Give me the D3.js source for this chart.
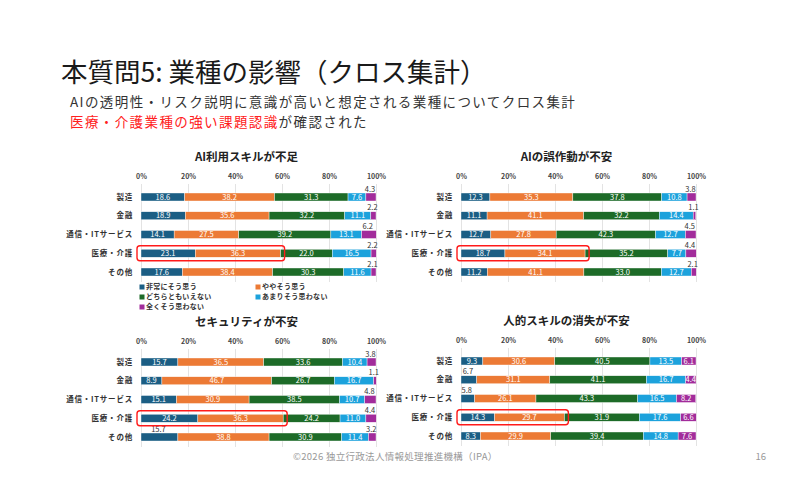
<!DOCTYPE html>
<html>
<head>
<meta charset="utf-8">
<script src="https://cdn.jsdelivr.net/npm/d3@7/dist/d3.min.js"></script>
<style>
  body { margin: 0; background: #fff; }
  svg { font-family: "Noto Sans CJK JP", "Noto Sans", sans-serif; }
</style>
</head>
<body>
<div id="container"></div>
<script>
// data
let categories = ["製造", "金融", "通信・ITサービス", "医療・介護", "その他"];
let seriesNames = ["非常にそう思う", "ややそう思う", "どちらともいえない", "あまりそう思わない", "全くそう思わない"];
let seriesColors = ["#1b5e84", "#ec7a35", "#1d6b28", "#1ca2dc", "#a22c9b"];
let tickValues = [0, 20, 40, 60, 80, 100];
let chartTitles = ["AI利用スキルが不足", "AIの誤作動が不安", "セキュリティが不安", "人的スキルの消失が不安"];

let skillShortage = [
  [18.6, 38.2, 31.3, 7.6, 4.3],
  [18.9, 35.6, 32.2, 11.1, 2.2],
  [14.1, 27.5, 39.2, 13.1, 6.2],
  [23.1, 36.3, 22.0, 16.5, 2.2],
  [17.6, 38.4, 30.3, 11.6, 2.1]
];
let malfunction = [
  [12.3, 35.3, 37.8, 10.8, 3.8],
  [11.1, 41.1, 32.2, 14.4, 1.1],
  [12.7, 27.8, 42.3, 12.7, 4.5],
  [18.7, 34.1, 35.2, 7.7, 4.4],
  [11.2, 41.1, 33.0, 12.7, 2.1]
];
let security = [
  [15.7, 36.5, 33.6, 10.4, 3.8],
  [8.9, 46.7, 26.7, 16.7, 1.1],
  [15.1, 30.9, 38.5, 10.7, 4.8],
  [24.2, 36.3, 24.2, 11.0, 4.4],
  [15.7, 38.8, 30.9, 11.4, 3.2]
];
let humanSkillLoss = [
  [9.3, 30.6, 40.5, 13.5, 6.1],
  [6.7, 31.1, 41.1, 16.7, 4.4],
  [5.8, 26.1, 43.3, 16.5, 8.2],
  [14.3, 29.7, 31.9, 17.6, 6.6],
  [8.3, 29.9, 39.4, 14.8, 7.6]
];
// labels drawn above the bar instead of inside: [row, segment]
let aboveSkill = [[0, 4], [1, 4], [2, 4], [3, 4], [4, 4]];
let aboveMalfunction = [[0, 4], [1, 4], [2, 4], [3, 4], [4, 4]];
let aboveSecurity = [[0, 4], [1, 4], [2, 4], [3, 4], [4, 4], [4, 0]];
let aboveHuman = [[1, 0], [2, 0]];

let w = 800;
let h = 486;

let viz = d3.select("#container")
  .append("svg")
    .attr("width", w)
    .attr("height", h);

// slide header
viz.append("text")
  .text("本質問5: 業種の影響（クロス集計）")
  .attr("x", 61)
  .attr("y", 82)
  .attr("font-size", "26.5px")
  .attr("fill", "#1a1a1a");

viz.append("text")
  .text("AIの透明性・リスク説明に意識が高いと想定される業種についてクロス集計")
  .attr("x", 70)
  .attr("y", 107)
  .attr("font-size", "13.5px")
  .attr("letter-spacing", "1.4px")
  .attr("fill", "#333");

let line2 = viz.append("text")
  .attr("x", 70)
  .attr("y", 127)
  .attr("font-size", "13.5px")
  .attr("letter-spacing", "1.4px");
line2.append("tspan").text("医療・介護業種の強い課題認識").attr("fill", "#ff2020");
line2.append("tspan").text("が確認された").attr("fill", "#333");

// footer
viz.append("text")
  .text("©2026 独立行政法人情報処理推進機構（IPA）")
  .attr("x", 293)
  .attr("y", 460)
  .attr("font-size", "9.5px")
  .attr("letter-spacing", "0.3px")
  .attr("fill", "#999");
viz.append("text")
  .text("16")
  .attr("x", 766)
  .attr("y", 460)
  .attr("text-anchor", "end")
  .attr("font-size", "9.5px")
  .attr("fill", "#999");

function drawChart(title, values, above, left, right, tickY) {
  let x = d3.scaleLinear().domain([0, 100]).range([left, right]);
  let y = d3.scalePoint().domain(categories).range([tickY + 21, tickY + 96]);
  let barH = 8;
  let g = viz.append("g");

  // gridlines
  let grid = g.append("g")
    .attr("transform", "translate(0," + (tickY + 8) + ")")
    .call(d3.axisTop(x).tickValues(tickValues).tickSize(-(98)).tickFormat(""));
  grid.select(".domain").remove();
  grid.selectAll("line").attr("stroke", "#dcdcdc").attr("stroke-width", 0.8);

  // tick labels
  let ticks = g.append("g")
    .attr("transform", "translate(0," + (tickY + 3) + ")")
    .call(d3.axisTop(x).tickValues(tickValues).tickSize(0).tickPadding(0).tickFormat(function(d){ return d + "%"; }));
  ticks.select(".domain").remove();
  ticks.selectAll("text")
    .attr("font-family", "\"Noto Sans CJK JP\", sans-serif")
    .attr("font-size", "7px")
    .attr("font-weight", "bold")
    .attr("fill", "#444");

  // title
  g.append("text")
    .text(title)
    .attr("x", (left + right) / 2 - 12)
    .attr("y", tickY - 15)
    .attr("text-anchor", "middle")
    .attr("font-size", "11.5px")
    .attr("font-weight", "bold")
    .attr("fill", "#222");

  // category labels
  g.selectAll(".cat")
    .data(categories)
    .enter()
    .append("text")
      .text(function(d){ return d; })
      .attr("x", left - 8)
      .attr("y", function(d){ return y(d); })
      .attr("dy", "0.35em")
      .attr("text-anchor", "end")
      .attr("font-size", "7.5px")
      .attr("font-weight", "bold")
      .attr("letter-spacing", "0.8px")
      .attr("fill", "#333");

  // stacked segments
  values.forEach(function(row, ri) {
    let cat = categories[ri];
    let cum = 0;
    row.forEach(function(v, si) {
      let start = cum;
      cum += v;
      g.append("rect")
        .attr("x", x(start))
        .attr("y", y(cat) - barH / 2)
        .attr("width", x(cum) - x(start))
        .attr("height", barH)
        .attr("fill", seriesColors[si])
        .attr("stroke", "#fff")
        .attr("stroke-width", 0.4);

      let isAbove = above.some(function(a){ return a[0] == ri && a[1] == si; });
      let mid = (x(start) + x(Math.min(cum, 100))) / 2;
      g.append("text")
        .text(v.toFixed(1))
        .attr("x", isAbove ? mid - 1 : mid)
        .attr("y", isAbove ? y(cat) - barH / 2 - 1.5 : y(cat))
        .attr("dy", isAbove ? "0" : "0.35em")
        .attr("text-anchor", "middle")
        .attr("font-size", "7.5px")
        .attr("fill", isAbove ? "#333" : "#fff");
    });
  });

  // red highlight around the first two segments of 医療・介護
  let hv = values[3][0] + values[3][1];
  g.append("rect")
    .attr("x", x(0) - 4)
    .attr("y", y("医療・介護") - 7.5)
    .attr("width", x(hv) - x(0) + 8)
    .attr("height", 15)
    .attr("rx", 3)
    .attr("fill", "none")
    .attr("stroke", "#ff1a1a")
    .attr("stroke-width", 1.4);
}

drawChart(chartTitles[0], skillShortage, aboveSkill, 141, 376, 176);
drawChart(chartTitles[1], malfunction, aboveMalfunction, 461, 696, 176);
drawChart(chartTitles[2], security, aboveSecurity, 141, 376, 341);
drawChart(chartTitles[3], humanSkillLoss, aboveHuman, 461, 696, 340);

// legend
let legend = viz.append("g");
seriesNames.forEach(function(name, i) {
  let lx = (i % 2 == 0) ? 142 : 258;
  let ly = 287 + Math.floor(i / 2) * 10;
  legend.append("rect")
    .attr("x", lx - 2.5)
    .attr("y", ly - 2.5)
    .attr("width", 5)
    .attr("height", 5)
    .attr("fill", seriesColors[i]);
  legend.append("text")
    .text(name)
    .attr("x", lx + 4)
    .attr("y", ly)
    .attr("dy", "0.35em")
    .attr("font-size", "7px")
    .attr("font-weight", "bold")
    .attr("letter-spacing", "0.3px")
    .attr("fill", "#333");
});
</script>
</body>
</html>
